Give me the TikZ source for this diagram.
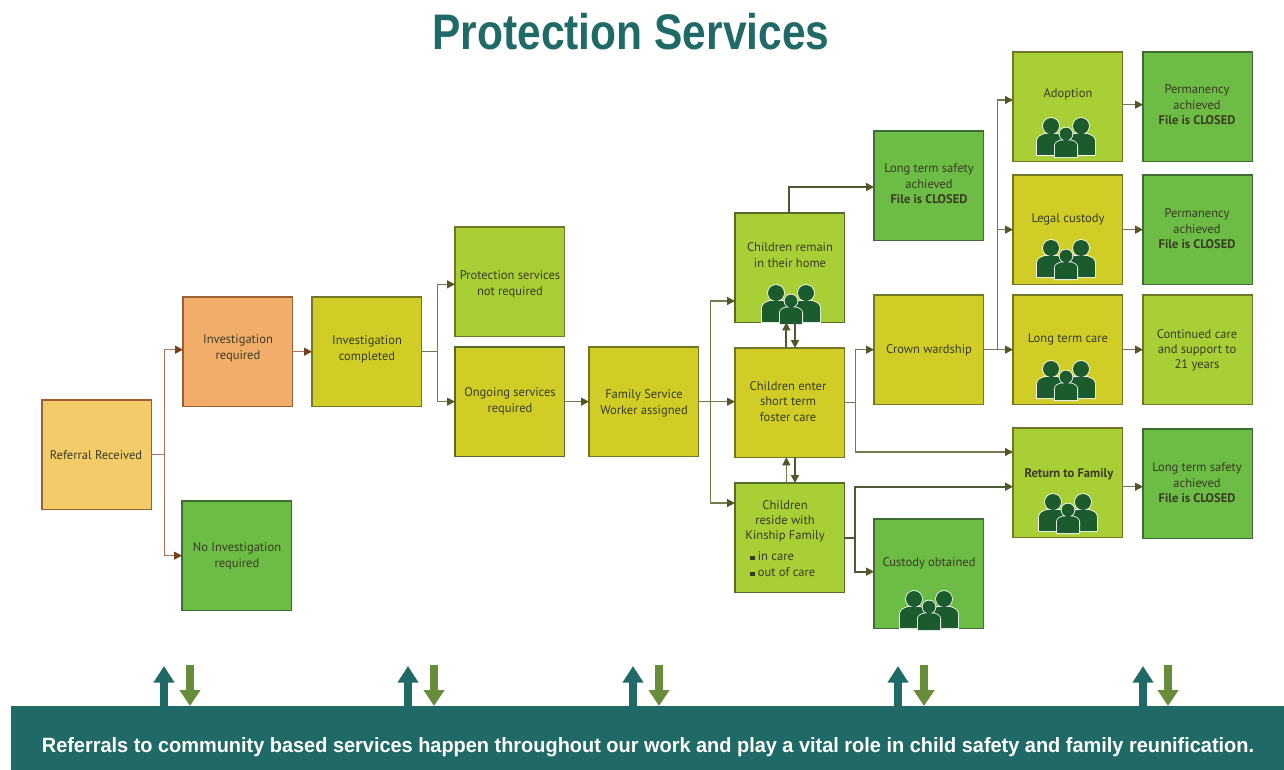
\documentclass[tikz,border=0pt]{standalone}
\usepackage{fontspec}
\setmainfont{PT Sans}
\newfontfamily\headfont{Liberation Sans}
\usetikzlibrary{arrows.meta}
\definecolor{teal}{HTML}{1F6A66}
\definecolor{gdown}{HTML}{678C3A}
\definecolor{forange}{HTML}{F2AD6B}
\definecolor{fgold}{HTML}{F3CB68}
\definecolor{fyel}{HTML}{D1CD27}
\definecolor{flime}{HTML}{A9CF37}
\definecolor{fgreen}{HTML}{6CBC45}
\definecolor{bbrown}{HTML}{9A5F35}
\definecolor{byel}{HTML}{737527}
\definecolor{blime}{HTML}{566A2B}
\definecolor{bgreen}{HTML}{3F6B34}
\definecolor{ink}{HTML}{3A3C22}
\definecolor{lbrown}{HTML}{A8755A}
\definecolor{hbrown}{HTML}{7A3F17}
\definecolor{lolive}{HTML}{77784E}
\definecolor{holive}{HTML}{55552A}
\definecolor{ldark}{HTML}{4B5A33}
\definecolor{people}{HTML}{1B5B2E}
\tikzset{
  x=0.75pt,y=-0.75pt,
  bx/.style={draw=#1,line width=1pt,anchor=north west,minimum width=82pt,minimum height=82pt,inner sep=0pt,outer sep=0pt},
  lbl/.style={text=ink,align=center,inner sep=0pt,yshift=-1pt,font=\fontsize{9.4pt}{11.6pt}\selectfont},
  brown/.style={draw=lbrown,line width=.9pt,-{Triangle[length=6pt,width=6pt,color=hbrown]}},
  olive/.style={draw=lolive,line width=.9pt,-{Triangle[length=6pt,width=6pt,color=holive]}},
  dark/.style={draw=ldark,line width=1.3pt,-{Triangle[length=6pt,width=6pt,color=holive]}},
  uparr/.style={draw=teal,line width=6pt,-{Triangle[length=12.5pt,width=15pt]}},
  downarr/.style={draw=gdown,line width=6pt,-{Triangle[length=12pt,width=15pt]}},
  person/.pic={
    \draw[white,line width=1.2pt] (-14,29) -- (-14,15) .. controls (-14,11) and (-10,9) .. (-6,8)
      -- (6,8) .. controls (10,9) and (14,11) .. (14,15) -- (14,29) -- cycle (0,0) circle (8);
    \fill[people] (-14,29) -- (-14,15) .. controls (-14,11) and (-10,9) .. (-6,8)
      -- (6,8) .. controls (10,9) and (14,11) .. (14,15) -- (14,29) -- cycle (0,0) circle (8);
  },
  people/.pic={
    \pic[shift={(-15,8)}] {person};
    \pic[shift={(15,8)}] {person};
    \pic[shift={(0,16)},scale=.8] {person};
  }
}
\begin{document}
\begin{tikzpicture}
\useasboundingbox (0,0) rectangle (1284,770);
% boxes
\node[bx=bbrown,fill=fgold] (ref) at (42,400) {};
\node[bx=bbrown,fill=forange] (inv) at (183,297) {};
\node[bx=bgreen,fill=fgreen] (noinv) at (182,501) {};
\node[bx=byel,fill=fyel] (comp) at (312,297) {};
\node[bx=byel,fill=flime] (prot) at (455,227) {};
\node[bx=blime,fill=fyel] (ong) at (455,347) {};
\node[bx=byel,fill=fyel] (fsw) at (589,347) {};
\node[bx=blime,fill=flime] (remain) at (735,213) {};
\node[bx=byel,fill=fyel] (short) at (735,348) {};
\node[bx=blime,fill=flime] (kin) at (735,483) {};
\node[bx=bgreen,fill=fgreen] (lts) at (874,131) {};
\node[bx=byel,fill=fyel] (crown) at (874,295) {};
\node[bx=bgreen,fill=fgreen] (cust) at (874,519) {};
\node[bx=byel,fill=flime] (adopt) at (1013,52) {};
\node[bx=byel,fill=fyel] (legal) at (1013,175) {};
\node[bx=byel,fill=fyel] (ltc) at (1013,295) {};
\node[bx=byel,fill=flime] (ret) at (1013,428) {};
\node[bx=bgreen,fill=fgreen] (perm) at (1143,52) {};
\node[bx=bgreen,fill=fgreen] (permb) at (1143,175) {};
\node[bx=byel,fill=flime] (cont) at (1143,295) {};
\node[bx=bgreen,fill=fgreen] (ltsb) at (1143,429) {};
% labels
\node[lbl] (tref) at (96,454) {Referral Received};
\node[lbl] (tinv) at (238,347) {Investigation\\required};
\node[lbl] (tnoinv) at (237,555) {No Investigation\\required};
\node[lbl] (tcomp) at (367,348) {Investigation\\completed};
\node[lbl] (tprot) at (510,283) {Protection services\\not required};
\node[lbl] (tong) at (510,400) {Ongoing services\\required};
\node[lbl] (tfsw) at (644,402) {Family Service\\Worker assigned};
\node[lbl] (tremain) at (790,254) {Children remain\\in their home};
\node[lbl] (tshort) at (788,400) {Children enter\\short term\\foster care};
\node[lbl] (tkin) at (785,520) {Children\\reside with\\Kinship Family};
\node[lbl,anchor=west,align=left] (tkinb) at (750,563) {\rule[.5pt]{3.2pt}{3.2pt}\hspace{2.5pt}in care\\\rule[.5pt]{3.2pt}{3.2pt}\hspace{2.5pt}out of care};
\node[lbl] (tlts) at (929,182.5) {Long term safety\\achieved\\\textbf{File is CLOSED}};
\node[lbl] (tcrown) at (929,349) {Crown wardship};
\node[lbl] (tcust) at (929,562) {Custody obtained};
\node[lbl] (tadopt) at (1068,93) {Adoption};
\node[lbl] (tlegal) at (1068,218) {Legal custody};
\node[lbl] (tltc) at (1068,338) {Long term care};
\node[lbl] (tret) at (1069,473) {\textbf{Return to Family}};
\node[lbl] (tperm) at (1197,103.5) {Permanency\\achieved\\\textbf{File is CLOSED}};
\node[lbl] (tpermb) at (1197,227.5) {Permanency\\achieved\\\textbf{File is CLOSED}};
\node[lbl] (tcont) at (1197,349) {Continued care\\and support to\\21 years};
\node[lbl] (tltsb) at (1197,481.5) {Long term safety\\achieved\\\textbf{File is CLOSED}};
% people
\pic[scale=.87] at (791,285) {people};
\pic at (1066,118) {people};
\pic at (1066,240) {people};
\pic at (1066,361) {people};
\pic at (1068,494) {people};
\pic at (929,591) {people};
% connectors
\draw[brown] (ref.east) -- ++(13,0) |- ([yshift=1.5pt]inv.west);
\draw[brown] (ref.east) -- ++(13,0) |- (noinv.west);
\draw[brown] (inv.east) -- (comp.west);
\draw[olive] (comp.east) -- ++(16,0) |- ([yshift=-2pt]prot.west);
\draw[olive] (comp.east) -- ++(16,0) |- (ong.west);
\draw[olive] (ong.east) -- (fsw.west);
\draw[olive] (fsw.east) -- ++(12,0) |- ([yshift=-25pt]remain.west);
\draw[olive] (fsw.east) -- (fsw.east -| short.west);
\draw[olive] (fsw.east) -- ++(12,0) |- ([yshift=26pt]kin.west);
\draw[dark] ([xshift=-.5pt]remain.north) |- ([yshift=-1pt]lts.west);
\draw[dark] ([xshift=-2.5pt]short.north) -- ([xshift=-2.5pt]remain.south);
\draw[dark] ([xshift=4pt]remain.south) -- ([xshift=4pt]short.north);
\draw[olive] ([xshift=-2.5pt]kin.north) -- ([xshift=-2.5pt]short.south);
\draw[dark] ([xshift=4pt]short.south) -- ([xshift=4pt]kin.north);
\draw[olive] (short.east) -- ++(11,0) |- (crown.west);
\draw[olive] (short.east) -- ++(11,0) |- ([yshift=23pt]ret.west);
\draw[dark] (kin.east) -- ++(11,0) |- ([yshift=-3pt]ret.west);
\draw[dark] (kin.east) -- ++(11,0) |- ([yshift=1.5pt]cust.west);
\draw[olive] (crown.east) -- (ltc.west);
\draw[olive] ([xshift=10.5pt]crown.east) |- ([yshift=5pt]adopt.west);
\draw[olive] ([xshift=10.5pt]crown.east) |- (legal.west);
\draw[olive] ([yshift=1.5pt]adopt.east) -- ([yshift=1.5pt]perm.west);
\draw[olive] (legal.east) -- (permb.west);
\draw[olive] (ltc.east) -- (cont.west);
\draw[olive] ([yshift=-3pt]ret.east) -- ([yshift=-3pt]ret.east -| ltsb.west);
% bottom bar
\node[fill=teal,anchor=north west,minimum width=955.5pt,minimum height=48pt,inner sep=0pt,outer sep=0pt] (bar) at (11,706) {};
\node[text=white,inner sep=0pt,font=\headfont\bfseries\fontsize{15.5pt}{17pt}\selectfont] (tbar) at (648,747) {\scalebox{.964}[1]{Referrals to community based services happen throughout our work and play a vital role in child safety and family reunification.}};
\foreach \n/\ux/\dx in {a/164/190,b/408/434,c/633/659,d/898/924,e/1143/1168}{
  \coordinate (u\n) at (\ux,666);
  \coordinate (d\n) at (\dx,665);
  \draw[uparr] (bar.north -| u\n) -- (u\n);
  \draw[downarr] (d\n) -- (bar.north -| d\n);
}
% title
\node[text=teal,inner sep=0pt,font=\headfont\bfseries\fontsize{37.5pt}{40pt}\selectfont] (title) at (631,32) {\scalebox{.85}[1]{Protection Services}};
\end{tikzpicture}
\end{document}
